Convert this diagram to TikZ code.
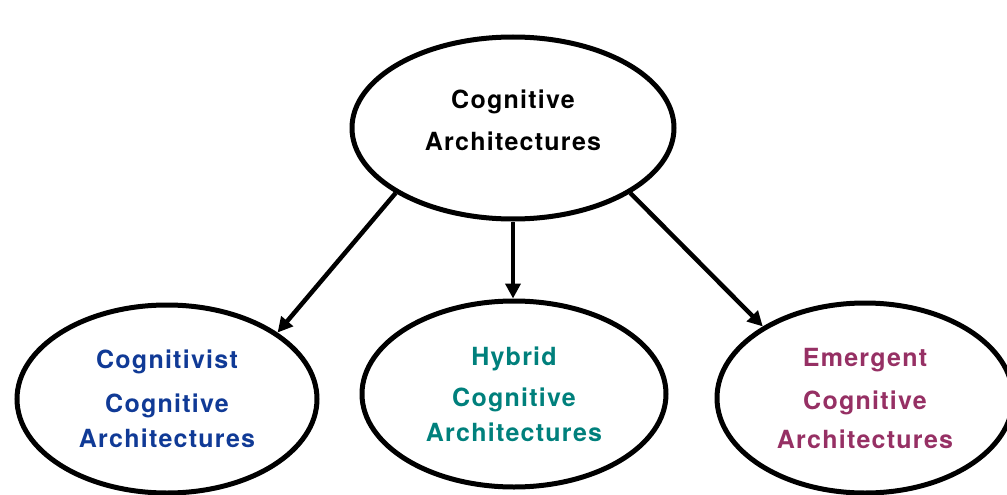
\documentclass[tikz,border=0pt]{standalone}
\usepackage{fontspec}
\setmainfont{TeX Gyre Heros}[LetterSpace=5]
\usetikzlibrary{shapes.geometric,arrows.meta}
\definecolor{cogblue}{RGB}{16,58,150}
\definecolor{cogteal}{RGB}{0,128,124}
\definecolor{cogplum}{RGB}{150,48,100}
\tikzset{
  archbox/.style={ellipse, draw=black, line width=5pt, inner sep=0pt, align=center,
    font=\bfseries\fontsize{25}{35}\selectfont},
  archarrow/.style={line width=4.5pt, -{Triangle[length=15pt,width=15pt]}}
}
\begin{document}
\begin{tikzpicture}[x=1pt, y=-1pt]
    \useasboundingbox (0,0) rectangle (1007,495);
    \node[archbox, minimum width=322pt, minimum height=182pt]
        (arch) at (513,128) {Cognitive\\[7pt]Architectures\\[-19pt]\mbox{}};
    \node[archbox, text=cogblue, minimum width=300pt, minimum height=188pt]
        (cognitivist) at (167,399) {Cognitivist\\[9pt]Cognitive\\Architectures};
    \node[archbox, text=cogteal, minimum width=304pt, minimum height=186pt]
        (hybrid) at (514,394) {Hybrid\\[6pt]Cognitive\\Architectures};
    \node[archbox, text=cogplum, minimum width=296pt, minimum height=190pt]
        (emergent) at (865,398) {Emergent\\[8pt]Cognitive\\[4pt]Architectures};
    \draw[archarrow] (arch.209) -- (cognitivist.31);
    \draw[archarrow] (arch.south) -- (arch.south |- hybrid.north);
    \draw[archarrow] (arch.331) -- (emergent.145);
\end{tikzpicture}
\end{document}
